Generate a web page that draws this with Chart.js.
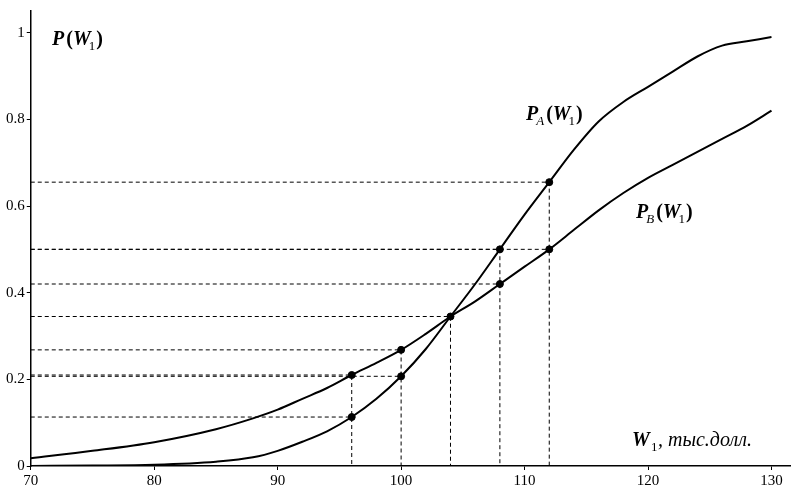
<!DOCTYPE html>
<html><head><meta charset="utf-8">
<script src="https://cdn.jsdelivr.net/npm/chart.js@4/dist/chart.umd.min.js"></script>
<style>html,body{margin:0;background:#fff}#w{width:810px;height:500px}</style>
</head><body><div id="w"><canvas id="c"></canvas></div>
<script>
const xs = [70,75,80,85,88,90,92,94,96,98,100,102,104,106,108,110,112,114,116,118,120,122,124,126,128,130];
const pA = [0,0.001,0.003,0.01,0.02,0.035,0.056,0.08,0.113,0.155,0.207,0.27,0.345,0.42,0.5,0.58,0.655,0.73,0.795,0.84,0.875,0.91,0.945,0.97,0.98,0.99];
const pB = [0.018,0.035,0.055,0.085,0.11,0.13,0.155,0.18,0.21,0.238,0.268,0.305,0.345,0.38,0.42,0.46,0.5,0.545,0.59,0.63,0.665,0.695,0.725,0.755,0.785,0.82];
const markX = [96,100,104,108,112,96,100,108,112];
const markY = [0.113,0.207,0.345,0.5,0.655,0.21,0.268,0.42,0.5];
const markDrop = [false,false,true,true,true,true,true,false,false];
const xTicks = [70,80,90,100,110,120,130];
const yTicks = [0,0.2,0.4,0.6,0.8,1];

const serif = "'Liberation Serif','DejaVu Serif',serif";
const datasets = [
 {data: xs.map((x,i)=>({x,y:pA[i]})), borderColor:'#000', borderWidth:2, pointRadius:0, cubicInterpolationMode:'monotone'},
 {data: xs.map((x,i)=>({x,y:pB[i]})), borderColor:'#000', borderWidth:2, pointRadius:0, cubicInterpolationMode:'monotone'}
];
markX.forEach((x,i)=>{
 const d=[{x:70,y:markY[i]},{x,y:markY[i]}];
 if(markDrop[i]) d.push({x,y:0});
 datasets.push({data:d, borderColor:'#000', borderWidth:1, borderDash:[4,3], pointRadius:0});
});
datasets.push({data: markX.map((x,i)=>({x,y:markY[i]})), showLine:false, pointRadius:3.5, pointBackgroundColor:'#000', pointBorderColor:'#000'});

function lbl(ctx,main,sub,x,y){
 ctx.font="italic bold 20px "+serif; ctx.fillText(main[0],x,y);
 let w=ctx.measureText(main[0]).width;
 if(sub){ctx.font="italic 13px "+serif; ctx.fillText(sub,x+w-2,y+5); w+=ctx.measureText(sub).width-2;}
 ctx.font="bold 20px "+serif; ctx.fillText('(',x+w+2,y); w+=ctx.measureText('(').width+2;
 ctx.font="italic bold 20px "+serif; ctx.fillText('W',x+w,y); w+=ctx.measureText('W').width;
 ctx.font="13px "+serif; ctx.fillText('1',x+w-2,y+5); w+=ctx.measureText('1').width-2;
 ctx.font="bold 20px "+serif; ctx.fillText(')',x+w+1,y);
}
const labels = {id:'labels', afterDraw(ch){
 const c=ch.ctx; c.save(); c.fillStyle='#000'; c.textBaseline='alphabetic';
 lbl(c,'P',null,52,45);
 lbl(c,'P','A',526,120);
 lbl(c,'P','B',636,218);
 c.font="italic bold 20px "+serif; c.fillText('W',632,446);
 c.font="13px "+serif; c.fillText('1',651,451);
 c.font="italic 20px "+serif; c.fillText(', тыс.долл.',658,446);
 c.restore();
}};

new Chart(document.getElementById('c'),{
 type:'line', data:{datasets},
 options:{responsive:true, maintainAspectRatio:false, animation:false,
  layout:{padding:{left:4,right:20,top:10,bottom:8}},
  plugins:{legend:{display:false},tooltip:{enabled:false}},
  scales:{
   x:{type:'linear',min:70,max:131.5,
     afterBuildTicks:s=>{s.ticks=xTicks.map(v=>({value:v}));},
     grid:{drawOnChartArea:false,tickLength:4,color:'#000'},border:{color:'#000',width:1.5},
     ticks:{color:'#000',font:{family:serif,size:15},padding:2,maxRotation:0}},
   y:{type:'linear',min:0,max:1.05,
     afterBuildTicks:s=>{s.ticks=yTicks.map(v=>({value:v}));},
     grid:{drawOnChartArea:false,tickLength:4,color:'#000'},border:{color:'#000',width:1.5},
     ticks:{color:'#000',font:{family:serif,size:15},padding:2,
       callback:v=>(v===0||v===1)?String(v):v.toFixed(1)}}
  }},
 plugins:[labels]
});
</script></body></html>
